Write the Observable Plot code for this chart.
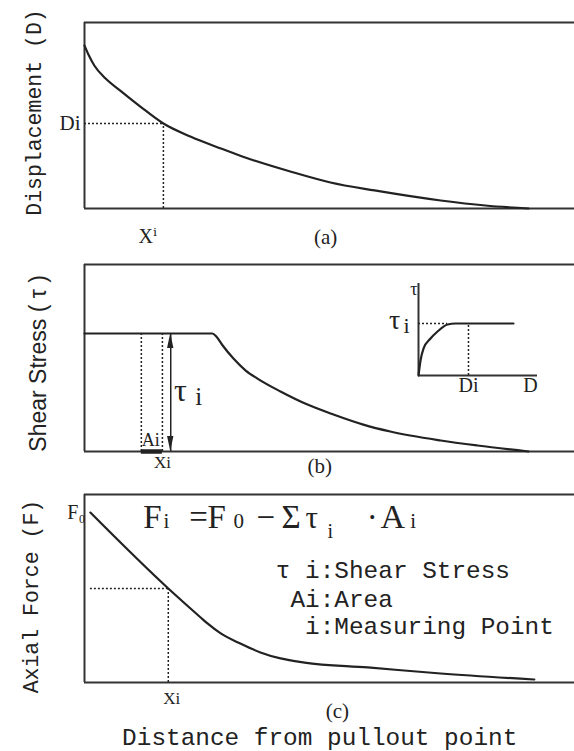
<!DOCTYPE html>
<html>
<head>
<meta charset="utf-8">
<script src="https://cdn.jsdelivr.net/npm/d3@7"></script>
<script src="https://cdn.jsdelivr.net/npm/@observablehq/plot@0.6"></script>
<style>
  body { margin: 0; background: #fff; }
  #chart { position: relative; width: 574px; height: 751px; overflow: hidden; }
  #chart svg { display: block; }
  #inset { position: absolute; left: 370px; top: 275px; }
</style>
</head>
<body>
<div id="chart"><div id="inset"></div></div>
<script>
// ---------- data ----------
// (a) displacement vs distance
const dispX = [0, 0.8, 2.0, 4.3, 7.3, 11.4, 16.1, 21.6, 27.8, 32.2, 42.0, 50.2, 59.2, 72.7, 81.8, 90.6];
const dispY = [87.6, 82.8, 76.9, 69.9, 63.4, 54.8, 45.7, 38.7, 32.3, 28.0, 19.9, 14.0, 9.7, 4.3, 1.6, 0];
const xiA = 16.1, diA = 45.7;

// (b) shear stress vs distance
const shearX = [0, 26.1, 26.9, 28.2, 30.4, 32.9, 35.3, 40.0, 45.5, 50.8, 56.9, 62.4, 72.7, 80.2, 90.6];
const shearY = [63.1, 63.1, 61.5, 56.7, 49.7, 43.3, 39.0, 32.1, 25.1, 19.8, 14.4, 10.7, 5.9, 3.2, 0];
const areaEdges = [11.6, 15.9];
const tauArrowX = 17.6, tauI = 63.1;

// inset: shear stress vs displacement
const insetD = [0, 1.7, 4.2, 10.1, 16.0, 24.4, 31.1, 79.8];
const insetTau = [0, 16.3, 29.3, 40.2, 47.8, 55.4, 56.5, 56.5];
const insetDi = 42, insetTauI = 56.5, insetKnee = 24.4;

// (c) axial force vs distance
const forceX = [1.2, 17.1, 23.7, 25.1, 27.8, 31.8, 35.9, 40.0, 44.9, 57.8, 72.7, 91.8];
const forceY = [90.4, 50.0, 34.6, 31.4, 26.1, 20.7, 16.0, 12.8, 10.6, 8.0, 4.8, 1.6];
const xiC = 17.1, fiC = 50.0;

// text
const axisTitles = ["Displacement (D)", "Shear Stress ( τ )", "Axial Force (F)"];
const panelLetters = ["(a)", "(b)", "(c)"];
const formulaParts = ["F", "i", "=", "F", "0", "−", "Σ", "τ", "i", "·", "A", "i"];
const formulaX = [12.0, 16.1, 21.4, 25.1, 30.4, 35.1, 40.2, 45.1, 49.6, 57.6, 60.4, 66.5];
const formulaBase = [82.4, 82.4, 82.4, 82.4, 82.4, 82.4, 82.4, 82.4, 76.6, 82.4, 82.4, 82.4];
const formulaSize = [33, 21, 33, 33, 21, 33, 33, 31, 20, 33, 34, 21];
const legendKeys = ["τ i", "Ai", "i"];
const legendDescs = [":Shear Stress", ":Area", ":Measuring Point"];
const legendY = [59.6, 44.1, 29.8];
const bottomTitle = "Distance from pullout point";

// ---------- styles ----------
const ink = "#222";
const mono = "'Liberation Mono', 'DejaVu Sans Mono', monospace";
const serif = "'Liberation Serif', 'DejaVu Serif', serif";
const sans = "'Liberation Sans', Arial, sans-serif";
const dotted = {stroke: ink, strokeWidth: 1.5, strokeDasharray: "2,2"};
const curve = {stroke: ink, strokeWidth: 2.2, curve: "monotone-x"};

function frame() {
  return [
    Plot.ruleY([0, 100], {stroke: "#333", strokeWidth: 2}),
    Plot.ruleX([0], {y1: 0, y2: 100, stroke: "#333", strokeWidth: 2})
  ];
}
function pts(xs, ys) { return xs.map((x, i) => ({x, y: ys[i]})); }
// narrow filled arrow head (triangle) pointing to `tip`
function head(x, tip, base, halfWidth) {
  return [
    {x: x - halfWidth, y1: base, y2: base},
    {x: x, y1: base, y2: tip},
    {x: x + halfWidth, y1: base, y2: base}
  ];
}
const base = {
  width: 574, marginLeft: 84, marginRight: 0,
  x: {domain: [0, 100], axis: null},
  style: {background: "transparent", overflow: "visible"}
};
const chart = document.getElementById("chart");
const insetDiv = document.getElementById("inset");

// ---------- panel (a) ----------
const pa = Plot.plot({
  ...base, height: 250, marginTop: 22, marginBottom: 42,
  y: {domain: [0, 100], axis: null},
  marks: [
    ...frame(),
    Plot.line(pts(dispX, dispY), {x: "x", y: "y", ...curve}),
    Plot.ruleY([diA], {x1: 0, x2: xiA, ...dotted}),
    Plot.ruleX([xiA], {y1: 0, y2: diA, ...dotted}),
    Plot.text(["Di"], {x: -0.8, y: diA, textAnchor: "end", fontFamily: serif, fontSize: 21, fill: ink}),
    Plot.text(["Xⁱ"], {x: 12.9, y: -15.1, fontFamily: serif, fontSize: 20, fill: ink}),
    Plot.text([panelLetters[0]], {x: 49.2, y: -15.6, fontFamily: serif, fontSize: 21, fill: ink}),
    Plot.text([axisTitles[0]], {x: -10.2, y: 51.6, rotate: -90, fontFamily: mono, fontSize: 21.5, fill: ink})
  ]
});
chart.insertBefore(pa, insetDiv);

// ---------- panel (b) ----------
const pb = Plot.plot({
  ...base, height: 230, marginTop: 14, marginBottom: 29,
  y: {domain: [0, 100], axis: null},
  marks: [
    ...frame(),
    Plot.line(pts(shearX, shearY), {x: "x", y: "y", ...curve}),
    Plot.ruleX(areaEdges, {y1: 0, y2: tauI, ...dotted}),
    Plot.ruleY([0], {x1: areaEdges[0], x2: areaEdges[1], stroke: ink, strokeWidth: 4.5}),
    Plot.ruleX([tauArrowX], {y1: 0, y2: tauI, stroke: ink, strokeWidth: 1.5}),
    Plot.areaY(head(tauArrowX, tauI, tauI - 8, 0.65), {x: "x", y1: "y1", y2: "y2", fill: ink, curve: "linear"}),
    Plot.areaY(head(tauArrowX, 0, 8, 0.65), {x: "x", y1: "y1", y2: "y2", fill: ink, curve: "linear"}),
    Plot.text(["τ"], {x: 19.6, y: 32.6, fontFamily: serif, fontSize: 32, fill: ink}),
    Plot.text(["i"], {x: 23.3, y: 29.4, fontFamily: serif, fontSize: 25, fill: ink}),
    Plot.text(["Ai"], {x: 13.5, y: 5.9, fontFamily: serif, fontSize: 18, fill: ink}),
    Plot.text(["Xi"], {x: 15.9, y: -5.9, fontFamily: serif, fontSize: 17, fill: ink}),
    Plot.text([panelLetters[1]], {x: 48, y: -8.0, fontFamily: serif, fontSize: 21, fill: ink}),
    Plot.text([axisTitles[1]], {x: -9.4, y: 47.1, rotate: -90, fontFamily: sans, fontSize: 23, fill: ink})
  ]
});
chart.insertBefore(pb, insetDiv);

// ---------- inset ----------
const pi = Plot.plot({
  width: 180, height: 130, marginLeft: 48, marginRight: 13, marginTop: 8, marginBottom: 30,
  x: {domain: [0, 100], axis: null},
  y: {domain: [0, 100], axis: null},
  style: {background: "transparent", overflow: "visible"},
  marks: [
    Plot.ruleY([0], {stroke: "#333", strokeWidth: 2}),
    Plot.ruleX([0], {y1: 0, y2: 100, stroke: "#333", strokeWidth: 2}),
    Plot.line(pts(insetD, insetTau), {x: "x", y: "y", ...curve}),
    Plot.ruleY([insetTauI], {x1: 0, x2: insetKnee, ...dotted}),
    Plot.ruleX([insetDi], {y1: 0, y2: insetTauI, ...dotted}),
    Plot.text(["τ"], {x: -0.8, y: 94, textAnchor: "end", fontFamily: serif, fontSize: 18, fill: ink}),
    Plot.text(["τ"], {x: -20, y: 60, fontFamily: serif, fontSize: 28, fill: ink}),
    Plot.text(["i"], {x: -10, y: 54, fontFamily: serif, fontSize: 22, fill: ink}),
    Plot.text(["Di"], {x: insetDi, y: -11, fontFamily: serif, fontSize: 20, fill: ink}),
    Plot.text(["D"], {x: 94, y: -11, fontFamily: serif, fontSize: 20, fill: ink})
  ]
});
insetDiv.appendChild(pi);

// ---------- panel (c) ----------
const formulaData = formulaParts.map((t, i) => ({t, x: formulaX[i], y: formulaBase[i], s: formulaSize[i]}));
const pc = Plot.plot({
  ...base, height: 271, marginTop: 14, marginBottom: 69,
  y: {domain: [0, 100], axis: null},
  marks: [
    ...frame(),
    Plot.line(pts(forceX, forceY), {x: "x", y: "y", ...curve}),
    Plot.ruleY([fiC], {x1: forceX[0], x2: xiC, ...dotted}),
    Plot.ruleX([xiC], {y1: 0, y2: fiC, ...dotted}),
    Plot.text(["F₀"], {x: 0.2, y: 90.4, textAnchor: "end", fontFamily: serif, fontSize: 20, fill: ink}),
    Plot.text(formulaData, {x: "x", y: "y", text: "t", fontSize: "s", textAnchor: "start", lineAnchor: "bottom", fontFamily: serif, fill: ink}),
    Plot.text(legendKeys, {x: 48.0, y: legendY, textAnchor: "end", fontFamily: mono, fontSize: 24.4, fill: ink}),
    Plot.text(legendDescs, {x: 48.0, y: legendY, textAnchor: "start", fontFamily: mono, fontSize: 24.4, fill: ink}),
    Plot.text(["Xi"], {x: 17.8, y: -8.5, fontFamily: serif, fontSize: 17, fill: ink}),
    Plot.text([panelLetters[2]], {x: 51.6, y: -15.4, fontFamily: serif, fontSize: 21, fill: ink}),
    Plot.text([bottomTitle], {x: 48, y: -29.3, fontFamily: mono, fontSize: 24.4, fill: ink}),
    Plot.text([axisTitles[2]], {x: -10.8, y: 45.7, rotate: -90, fontFamily: mono, fontSize: 21.5, fill: ink})
  ]
});
chart.insertBefore(pc, insetDiv);
</script>
</body>
</html>
